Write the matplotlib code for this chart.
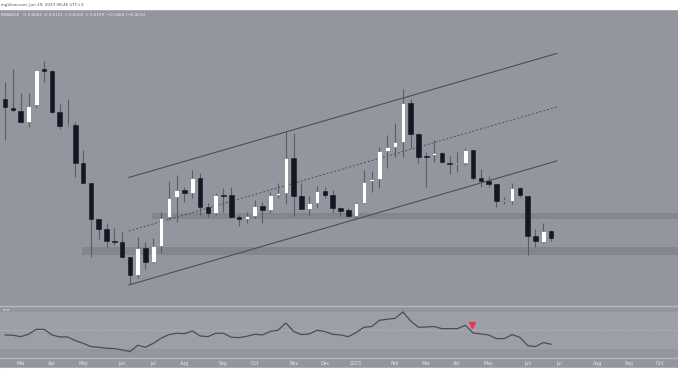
import numpy as np
import pandas as pd
import matplotlib
matplotlib.use('Agg')
import matplotlib.pyplot as plt
import matplotlib.dates as mdates
from matplotlib.patches import Rectangle
from matplotlib.lines import Line2D

# weekly candles, first one is the week of 2022-02-21
first_week = '2022-02-21'
opens = [2.01, 1.923, 1.893, 1.78, 1.947, 2.307, 2.29, 1.883, 1.74, 1.75, 1.367, 1.173, 0.81, 0.707,
         0.59, 0.583, 0.427, 0.25, 0.52, 0.377, 0.543, 0.827, 1.03, 1.10, 1.073, 1.217, 0.933, 0.873,
         1.05, 1.05, 0.827, 0.813, 0.843, 0.943, 0.90, 1.05, 1.073, 1.423, 1.04, 0.913, 0.967, 1.087,
         1.047, 0.917, 0.897, 0.84, 0.967, 1.19, 1.207, 1.493, 1.533, 1.583, 1.967, 1.657, 1.44, 1.45,
         1.473, 1.37, 1.365, 1.373, 1.50, 1.22, 1.19, 1.157, 0.993, 0.99, 1.123, 1.043, 0.64, 0.583, 0.69]
highs = [2.183, 2.31, 2.07, 2.067, 2.30, 2.39, 2.30, 1.957, 2.01, 1.783, 1.50, 1.175, 0.81, 0.767,
         0.717, 0.683, 0.43, 0.633, 0.577, 0.617, 0.883, 1.19, 1.25, 1.133, 1.30, 1.267, 0.967, 1.067,
         1.117, 1.133, 0.85, 0.883, 1.00, 0.983, 1.083, 1.167, 1.69, 1.673, 1.167, 1.04, 1.14, 1.133,
         1.10, 0.933, 0.917, 0.983, 1.30, 1.293, 1.527, 1.65, 1.767, 2.107, 2.007, 1.667, 1.483, 1.60,
         1.483, 1.44, 1.483, 1.517, 1.505, 1.31, 1.24, 1.16, 1.033, 1.167, 1.133, 1.045, 0.707, 0.767, 0.70]
lows = [1.60, 1.883, 1.773, 1.733, 1.92, 2.183, 1.875, 1.707, 1.727, 1.233, 1.167, 0.433, 0.607, 0.533,
        0.55, 0.42, 0.16, 0.217, 0.307, 0.367, 0.467, 0.80, 0.783, 0.983, 1.017, 0.85, 0.833, 0.85,
        0.883, 0.817, 0.74, 0.767, 0.817, 0.773, 0.867, 1.017, 0.96, 0.843, 0.91, 0.85, 0.917, 1.017,
        0.873, 0.84, 0.833, 0.817, 0.96, 1.083, 1.117, 1.317, 1.433, 1.433, 1.517, 1.367, 1.133, 1.383,
        1.367, 1.26, 1.283, 1.35, 1.20, 1.133, 1.133, 0.933, 0.96, 0.96, 1.033, 0.45, 0.527, 0.567, 0.593]
closes = [1.927, 1.897, 1.78, 1.943, 2.30, 2.29, 1.883, 1.743, 1.75, 1.367, 1.173, 0.81, 0.707, 0.587,
          0.585, 0.427, 0.25, 0.52, 0.377, 0.537, 0.823, 1.023, 1.10, 1.067, 1.217, 0.933, 0.873, 1.05,
          1.045, 0.833, 0.807, 0.84, 0.94, 0.90, 1.05, 1.073, 1.423, 1.04, 0.913, 0.967, 1.087, 1.047,
          0.917, 0.89, 0.84, 0.967, 1.183, 1.207, 1.49, 1.53, 1.583, 1.967, 1.657, 1.427, 1.435, 1.473,
          1.377, 1.365, 1.37, 1.50, 1.22, 1.187, 1.16, 0.993, 0.995, 1.12, 1.05, 0.643, 0.587, 0.69, 0.623]
rsi = [45.2, 44.9, 43.4, 45.9, 51.2, 51.2, 45.2, 43.1, 43.1, 39.2, 36.3, 32.8, 32.1, 31.0, 30.7,
       29.3, 27.5, 34.2, 32.1, 36.3, 41.7, 45.6, 47.0, 46.6, 49.5, 44.1, 43.4, 47.0, 47.0, 42.7,
       42.4, 43.8, 45.9, 45.2, 49.1, 50.2, 58.0, 48.8, 45.6, 46.3, 50.2, 48.8, 45.9, 45.2, 43.4,
       47.7, 53.4, 54.1, 60.8, 61.9, 62.9, 69.7, 60.1, 53.4, 53.7, 54.1, 51.9, 51.9, 51.9, 55.5,
       47.3, 46.3, 45.2, 41.3, 41.3, 45.6, 42.7, 33.9, 32.8, 37.1, 35.3]

# channel drawn from the June 2022 low
channel_dates = ['2022-06-12', '2023-07-01']
channel_upper = [1.225, 2.465]
channel_mid = [0.69, 1.93]
channel_lower = [0.15, 1.39]

# horizontal zones (start date, bottom, top)
zone_starts = ['2022-07-03', '2022-05-01']
zone_bottoms = [0.815, 0.45]
zone_tops = [0.87, 0.527]

divergence_date = '2023-04-16'
divergence_rsi = 55.5

tick_dates = ['2022-03-07', '2022-04-04', '2022-05-02', '2022-06-06', '2022-07-04', '2022-08-01',
              '2022-09-05', '2022-10-03', '2022-11-07', '2022-12-05', '2023-01-02', '2023-02-06',
              '2023-03-06', '2023-04-03', '2023-05-01', '2023-06-05', '2023-07-03', '2023-08-07',
              '2023-09-04', '2023-10-02']
tick_labels = ['Mar', 'Apr', 'May', 'Jun', 'Jul', 'Aug', 'Sep', 'Oct', 'Nov', 'Dec', '2023', 'Feb',
               'Mar', 'Apr', 'May', 'Jun', 'Jul', 'Aug', 'Sep', 'Oct']

BG = '#93969f'
BAND = '#9c9fa7'
DOWN = '#131722'
WICK = '#5a5d66'
LINE = '#4c4f58'
W, H = 678, 381

def fy(px):
    # figure fraction from a pixel row counted from the top
    return 1 - px / H

dates = mdates.date2num(pd.date_range(first_week, periods=len(opens), freq='7D'))
o, h, l, c = map(np.array, (opens, highs, lows, closes))
anchor = mdates.date2num(pd.Timestamp('2022-03-07'))
xlim = (anchor - 18.58, anchor + 589.9)

fig = plt.figure(figsize=(W / 100, H / 100), dpi=100, facecolor=BG)
fig.patches.append(Rectangle((0, fy(9)), 1, 9 / H, transform=fig.transFigure, color='white', zorder=0))
fig.patches.append(Rectangle((0, 0), 1, fy(368.3), transform=fig.transFigure, color='white', zorder=0))
for py in (305.5, 358.2):
    fig.add_artist(Line2D([0, 1], [fy(py), fy(py)], transform=fig.transFigure, color='#b4b7bf', lw=1.0))

# main pane
ax = fig.add_axes([0, fy(304), 1, 295 / H])
ax.set_facecolor(BG)
ax.set_xlim(*xlim)
ax.set_ylim(-0.04, 2.91)
ax.axis('off')

for start, lo, hi in zip(zone_starts, zone_bottoms, zone_tops):
    x0 = mdates.date2num(pd.Timestamp(start))
    ax.add_patch(Rectangle((x0, lo), xlim[1] - x0, hi - lo, color='#83868e', lw=0, zorder=1))

cd = mdates.date2num(pd.to_datetime(channel_dates))
ax.plot(cd, channel_upper, color=LINE, lw=0.8, zorder=2)
ax.plot(cd, channel_lower, color=LINE, lw=0.8, zorder=2)
ax.plot(cd, channel_mid, color=LINE, lw=0.7, ls=(0, (2, 2)), zorder=2)

up = c >= o
ax.vlines(dates, l, h, color=WICK, lw=0.8, zorder=3)
body_lo = np.minimum(o, c)
body_h = np.maximum(np.abs(c - o), 0.01)
ax.bar(dates[up], body_h[up], bottom=body_lo[up], width=4.2, color='white',
       edgecolor='#6a6d76', lw=0.4, zorder=4)
ax.bar(dates[~up], body_h[~up], bottom=body_lo[~up], width=4.2, color=DOWN,
       edgecolor=DOWN, lw=0.4, zorder=4)

fig.text(0.001, fy(5), 'ingView.com, Jun 29, 2023 08:46 UTC+2', fontsize=3, color='#50535e', va='center')
fig.text(0.001, fy(14.7), 'BINANCE   O 0.6664  H 0.6721  L 0.6000  C 0.6199  \u22120.0464 (\u22126.96%)',
         fontsize=3, color='#eeeff2', va='center')

# RSI pane
ar = fig.add_axes([0, fy(357.7), 1, 51.7 / H])
ar.set_facecolor(BG)
ar.set_xlim(*xlim)
ar.set_ylim(21, 76)
ar.axis('off')
ar.axhspan(30, 70, color=BAND, lw=0, zorder=0)
ar.axhline(50, color='#b9bcc4', lw=0.5, ls=(0, (2.5, 2.5)), zorder=1)
ar.plot(dates, rsi, color='#4a4d57', lw=0.9, zorder=2)
ar.plot(mdates.date2num(pd.Timestamp(divergence_date)), divergence_rsi, marker='v',
        color='#f23645', markersize=4.5, zorder=3)
fig.text(0.004, fy(310), '\u00f8 \u00f8', fontsize=3, color='#e6e7ea', va='center')

# time axis strip
at = fig.add_axes([0, fy(368.3), 1, 9.6 / H])
at.set_xlim(*xlim)
at.set_ylim(0, 1)
at.axis('off')
for d, lab in zip(tick_dates, tick_labels):
    at.text(mdates.date2num(pd.Timestamp(d)), 0.5, lab, fontsize=3.4, color='#e8e9ec',
            ha='center', va='center')

fig.savefig('out.png', dpi=100, facecolor=fig.get_facecolor())
